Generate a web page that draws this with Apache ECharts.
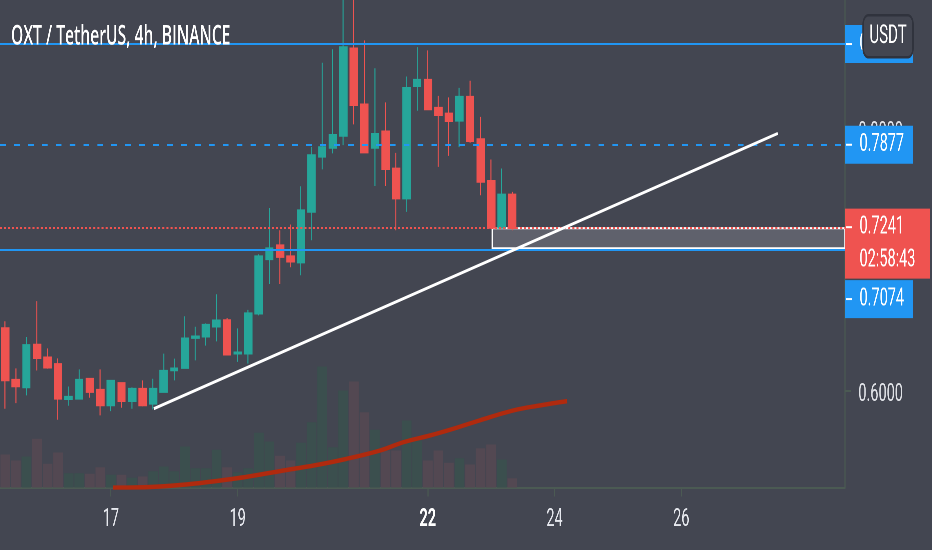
<!DOCTYPE html>
<html>
<head>
<meta charset="utf-8">
<script src="https://cdn.jsdelivr.net/npm/echarts@6/dist/echarts.min.js"></script>
<style>
html,body{margin:0;padding:0;background:#434651;overflow:hidden;width:932px;height:550px}
#main{width:1607px;height:550px;transform:scaleX(0.57996);transform-origin:0 0}
</style>
</head>
<body>
<div id="main"></div>
<script>
// ---- data ----
const startDay = 15, startHour = 8, slotCount = 80;   // 4h slots shown on the time axis
const tickDays = ['17', '19', '22', '24', '26'];
const boldDays = ['22'];
const priceTicks = [0.6, 0.8];

const opens  = [0.6479,0.6085,0.6027,0.6353,0.6256,0.6205,0.5937,0.5940,0.6093,0.6009,0.5889,0.6060,0.5922,0.6017,0.5902,0.5991,0.6156,0.6174,0.6403,0.6414,0.6490,0.6540,0.6284,0.6284,0.6589,0.7004,0.7111,0.7027,0.6979,0.7365,0.7785,0.7853,0.7945,0.8612,0.8185,0.7853,0.7979,0.7696,0.7467,0.8324,0.8373,0.8159,0.8116,0.8060,0.8243,0.7920,0.7602,0.7243,0.7498];
const closes = [0.6080,0.6034,0.6350,0.6250,0.6177,0.5940,0.5956,0.6085,0.5991,0.5889,0.6078,0.5922,0.6017,0.5889,0.6017,0.6154,0.6172,0.6401,0.6416,0.6505,0.6538,0.6276,0.6294,0.6592,0.7027,0.7088,0.7021,0.6986,0.7378,0.7798,0.7859,0.7953,0.8622,0.8179,0.7818,0.7960,0.7691,0.7467,0.8311,0.8373,0.8147,0.8103,0.8057,0.8243,0.7905,0.7594,0.7243,0.7498,0.7241];
const highs  = [0.6531,0.6172,0.6411,0.6685,0.6324,0.6248,0.6034,0.6164,0.6093,0.6164,0.6080,0.6067,0.6027,0.6080,0.6093,0.6284,0.6246,0.6569,0.6489,0.6515,0.6737,0.6556,0.6477,0.6618,0.7042,0.7395,0.7225,0.7269,0.7561,0.7861,0.8502,0.8605,0.9050,0.9050,0.8673,0.8460,0.8200,0.7815,0.8398,0.8622,0.8597,0.8250,0.8238,0.8311,0.8365,0.8090,0.7765,0.7696,0.7518];
const lows   = [0.5864,0.5907,0.5966,0.6156,0.6169,0.5780,0.5887,0.5935,0.5948,0.5813,0.5846,0.5872,0.5864,0.5882,0.5859,0.5991,0.6080,0.6174,0.6233,0.6345,0.6378,0.6276,0.6221,0.6208,0.6576,0.6815,0.6815,0.6943,0.6882,0.7149,0.7689,0.7811,0.7874,0.8032,0.7818,0.7563,0.7563,0.7225,0.7365,0.8136,0.8147,0.7708,0.7792,0.7859,0.7892,0.7492,0.7243,0.7243,0.7225];
const volumes = [33,27,31,48.7,23.7,35,14.3,14.3,13.7,20.3,12.7,12.7,9.7,11,16.3,21,16.3,41,19.3,19.3,37.7,20.3,15.3,19.3,54.7,46,31.7,27,44.7,65.3,121,40.3,97,106,75.3,57.7,37,37,67,47,27,37,24.7,29.3,23,39.3,43,28,9.3];

// moving average (time index, price)
const maX = [10.2, 14.65, 21.6, 26.9, 29.2, 32.3, 35.5, 37.7, 40.2, 42.4, 44.9, 48.1, 50.6, 53.2];
const maY = [0.5262, 0.5271, 0.5330, 0.5401, 0.5431, 0.5482, 0.5546, 0.5609, 0.5660, 0.5711, 0.5775, 0.5851, 0.5889, 0.5922];

// drawings (time index, price)
const trendX = [14.05, 73.13];
const trendY = [0.5864, 0.7963];
const zoneX = [46.1, 79.5];
const zoneY = [0.7241, 0.7087];

const levelTop = 0.8645, levelDashed = 0.7877, levelLow = 0.7074;
const lastPrice = 0.7241, countdown = '02:58:43';
const title = 'OXT / TetherUS, 4h, BINANCE';
const currency = 'USDT';

// ---- build ----
const categories = [];
for (let i = 0; i < slotCount; i++) {
  const t = startHour + 4 * i;
  const d = startDay + Math.floor(t / 24);
  const h = t % 24;
  categories.push(d + ' ' + String(h).padStart(2, '0') + ':00');
}
const candleData = opens.map((o, i) => [o, closes[i], lows[i], highs[i]]);
const UP = '#26a69a', DOWN = '#ef5350', BLUE = '#2196f3';
const volData = volumes.map((v, i) => ({
  value: v,
  itemStyle: { color: closes[i] >= opens[i] ? '#3b4f4e' : '#534852' }
}));
const gridColor = '#4b5a53';
const FONT = 'Roboto';

function isTick(idx, cat) {
  const parts = cat.split(' ');
  return parts[1] === '00:00' && tickDays.includes(parts[0]);
}

const tickRich = { width: 10, height: 2, backgroundColor: '#ffffff', verticalAlign: 'middle' };
function boxLabel(bg, text, dy) {
  return {
    show: true, position: 'end', distance: 0,
    formatter: '{t|}{s|}{v|' + text + '}',
    backgroundColor: bg, padding: [0, 0, 0, 2], width: 115, height: 38, lineHeight: 38,
    offset: [0, dy],
    rich: {
      t: tickRich, s: { width: 13 },
      v: { color: '#ffffff', fontSize: 25, fontFamily: FONT, lineHeight: 38 }
    }
  };
}

const chart = echarts.init(document.getElementById('main'), null, { renderer: 'canvas', devicePixelRatio: 2 });
chart.setOption({
  backgroundColor: '#434651',
  animation: false,
  tooltip: { show: false },
  axisPointer: { show: false },
  title: {
    text: title, left: 19, top: 22, padding: 0,
    textStyle: { color: '#ffffff', fontSize: 27, fontWeight: 600, fontFamily: 'Open Sans', lineHeight: 30 }
  },
  grid: [
    { left: 0, right: 150, top: 0, bottom: 62.5 },
    { left: 0, right: 150, top: 200, bottom: 62.5 }
  ],
  xAxis: [
    {
      type: 'category', data: categories, gridIndex: 0, boundaryGap: true,
      axisLine: { show: true, onZero: false, lineStyle: { color: gridColor, width: 2 } },
      axisTick: { show: true, alignWithLabel: true, interval: isTick, length: 9, lineStyle: { color: gridColor, width: 1.8 } },
      axisLabel: {
        interval: isTick, margin: 32, verticalAlign: 'middle',
        color: '#e6e8ee', fontSize: 25, fontFamily: FONT,
        formatter: v => { const d = v.split(' ')[0]; return boldDays.includes(d) ? '{b|' + d + '}' : d; },
        rich: { b: { fontWeight: 'bold', color: '#ffffff', fontSize: 25, fontFamily: FONT } }
      },
      splitLine: { show: false }, splitArea: { show: false }
    },
    { type: 'value', gridIndex: 0, min: -0.5, max: slotCount - 0.5, show: false, splitLine: { show: false }, axisLine: { onZero: false } },
    { type: 'category', data: categories, gridIndex: 1, show: false, boundaryGap: true, axisLine: { onZero: false } }
  ],
  yAxis: [
    {
      type: 'value', gridIndex: 0, position: 'right', min: 0.52634, max: 0.89809,
      splitLine: { show: false },
      axisLine: { show: true, onZero: false, lineStyle: { color: gridColor, width: 1.8 } },
      axisTick: { show: true, customValues: priceTicks, length: 10, lineStyle: { color: gridColor, width: 2 } },
      axisLabel: {
        customValues: priceTicks, margin: 23, verticalAlign: 'top', lineHeight: 8,
        color: '#dfe1e6', fontSize: 25, fontFamily: FONT,
        formatter: v => Number(v).toFixed(4)
      }
    },
    { type: 'value', gridIndex: 1, min: 0, max: 287.5, show: false, splitLine: { show: false }, axisLine: { onZero: false } }
  ],
  series: [
    {
      name: 'Volume', type: 'bar', xAxisIndex: 2, yAxisIndex: 1, data: volData,
      barCategoryGap: '8%', silent: true, z: 1
    },
    {
      name: 'MA', type: 'line', xAxisIndex: 1, yAxisIndex: 0,
      data: maX.map((x, i) => [x, maY[i]]), smooth: 0.4, symbol: 'none', silent: true, z: 2, clip: true,
      lineStyle: { color: '#b02a0e', width: 4.5 },
      markArea: {
        silent: true,
        itemStyle: { color: '#5f616c', borderColor: '#ffffff', borderWidth: 2.2 },
        data: [[{ coord: [zoneX[0], zoneY[0]] }, { coord: [zoneX[1], zoneY[1]] }]]
      }
    },
    {
      name: 'OXT', type: 'candlestick', xAxisIndex: 0, yAxisIndex: 0, data: candleData,
      barWidth: '73%', z: 3, silent: true, clip: true,
      itemStyle: { color: UP, color0: DOWN, borderColor: UP, borderColor0: DOWN, borderWidth: 1.7 },
      markLine: {
        silent: true, symbol: 'none', animation: false, precision: 4,
        data: [
          { yAxis: levelTop, lineStyle: { color: BLUE, type: 'solid', width: 2 }, label: boxLabel(BLUE, levelTop.toFixed(4), 0) },
          { yAxis: levelDashed, lineStyle: { color: BLUE, type: [10, 14], width: 2 }, label: boxLabel(BLUE, levelDashed.toFixed(4), 0) },
          { yAxis: levelLow, lineStyle: { color: BLUE, type: 'solid', width: 2 }, label: boxLabel(BLUE, levelLow.toFixed(4), 49) },
          {
            yAxis: lastPrice, lineStyle: { color: DOWN, type: [3.5, 3.5], width: 2 },
            label: {
              show: true, position: 'end', distance: 0,
              formatter: '{t|}{s|}{v|' + lastPrice.toFixed(4) + '}\n{s2|}{v|' + countdown + '}',
              backgroundColor: DOWN, padding: [2, 0, 2, 2], width: 144, lineHeight: 33,
              offset: [0, 15.5],
              rich: {
                t: tickRich, s: { width: 13 }, s2: { width: 23 },
                v: { color: '#ffffff', fontSize: 25, fontFamily: FONT, lineHeight: 33 }
              }
            }
          }
        ]
      }
    },
    {
      name: 'Trend', type: 'line', xAxisIndex: 1, yAxisIndex: 0, clip: true,
      data: trendX.map((x, i) => [x, trendY[i]]), symbol: 'none', silent: true, z: 5,
      lineStyle: { color: '#ffffff', width: 3 }
    }
  ],
  graphic: [
    {
      type: 'group', left: 1487, top: 14, z: 100,
      children: [
        { type: 'rect', z: 100, shape: { x: 0, y: 0, width: 86, height: 42, r: 9 }, style: { fill: '#434651', stroke: '#30333d', lineWidth: 2.5 } },
        { type: 'text', z: 101, style: { x: 43, y: 21, text: currency, fill: '#ffffff', font: '26px Roboto', align: 'center', verticalAlign: 'middle' } }
      ]
    }
  ]
});
</script>
</body>
</html>
